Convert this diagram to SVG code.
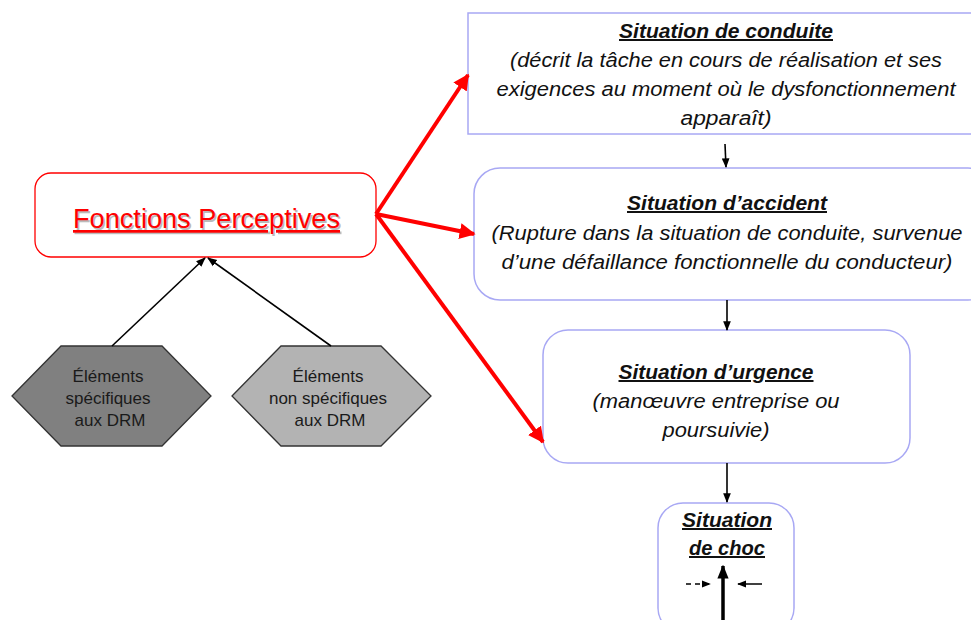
<svg xmlns="http://www.w3.org/2000/svg" width="971" height="620" viewBox="0 0 971 620">
<defs>
<style>
.sit{fill:#fff;stroke:#a8a8f4;stroke-width:1.5}
.t{font-family:"Liberation Sans",Arial,sans-serif;font-style:italic;font-size:20px;fill:#111;text-anchor:middle}
.h{font-weight:bold;text-decoration:underline}
.hx{font-family:"Liberation Sans",Arial,sans-serif;font-size:17px;fill:#1a1a1a;text-anchor:middle}
.red{stroke:#f00;stroke-width:4;fill:none;marker-end:url(#ra)}
.blk{stroke:#000;stroke-width:1.6;fill:none;marker-end:url(#ba)}
</style>
<marker id="ra" viewBox="0 0 10 10" refX="9" refY="5" markerWidth="4" markerHeight="4" orient="auto" markerUnits="strokeWidth"><path d="M0,0 L10,5 L0,10 z" fill="#f00"/></marker>
<marker id="ba" viewBox="0 0 10 10" refX="9" refY="5" markerWidth="6" markerHeight="6" orient="auto" markerUnits="strokeWidth"><path d="M0,1 L10,5 L0,9 z" fill="#000"/></marker>
<marker id="bs" viewBox="0 0 10 10" refX="9" refY="5" markerWidth="4" markerHeight="4" orient="auto" markerUnits="strokeWidth"><path d="M0,1 L10,5 L0,9 z" fill="#000"/></marker>
</defs>
<rect width="971" height="620" fill="#fff"/>

<g id="conduite">
<rect class="sit" x="468" y="13" width="520" height="121"/>
<text class="t h" x="726" y="38" textLength="214" lengthAdjust="spacingAndGlyphs">Situation de conduite</text>
<text class="t" x="726" y="67" textLength="432" lengthAdjust="spacingAndGlyphs">(décrit la tâche en cours de réalisation et ses</text>
<text class="t" x="726" y="96" textLength="459" lengthAdjust="spacingAndGlyphs">exigences au moment où le dysfonctionnement</text>
<text class="t" x="726" y="125" textLength="91" lengthAdjust="spacingAndGlyphs">apparaît)</text>
</g>

<g id="accident">
<rect class="sit" x="474" y="168" width="520" height="132" rx="26"/>
<text class="t h" x="727" y="210" textLength="200" lengthAdjust="spacingAndGlyphs">Situation d’accident</text>
<text class="t" x="727" y="240" textLength="471" lengthAdjust="spacingAndGlyphs">(Rupture dans la situation de conduite, survenue</text>
<text class="t" x="727" y="269" textLength="451" lengthAdjust="spacingAndGlyphs">d’une défaillance fonctionnelle du conducteur)</text>
</g>

<g id="urgence">
<rect class="sit" x="543" y="330" width="367" height="133" rx="25"/>
<text class="t h" x="716" y="379" textLength="195" lengthAdjust="spacingAndGlyphs">Situation d’urgence</text>
<text class="t" x="716" y="408" textLength="247" lengthAdjust="spacingAndGlyphs">(manœuvre entreprise ou</text>
<text class="t" x="716" y="437" textLength="107" lengthAdjust="spacingAndGlyphs">poursuivie)</text>
</g>

<g id="choc">
<rect class="sit" x="658" y="503" width="136" height="130" rx="25"/>
<text class="t h" x="727" y="527" textLength="90" lengthAdjust="spacingAndGlyphs">Situation</text>
<text class="t h" x="727" y="555" textLength="76" lengthAdjust="spacingAndGlyphs">de choc</text>
<line x1="723" y1="620" x2="723" y2="566" stroke="#000" stroke-width="3.5" marker-end="url(#bs)"/>
<line x1="686" y1="584" x2="710" y2="584" stroke="#000" stroke-width="1.5" stroke-dasharray="5,4" marker-end="url(#ba)"/>
<line x1="762" y1="584" x2="738" y2="584" stroke="#000" stroke-width="1.5" marker-end="url(#ba)"/>
</g>

<g id="fonctions">
<rect x="35" y="173" width="341" height="84" rx="16" fill="#fff" stroke="#f00" stroke-width="1.3"/>
<text x="206.5" y="228" font-family="'Liberation Sans',Arial,sans-serif" font-size="27" fill="#bbb" text-anchor="middle" textLength="267" lengthAdjust="spacingAndGlyphs" text-decoration="underline" transform="translate(1.5,1.5)">Fonctions Perceptives</text>
<text x="206.5" y="228" font-family="'Liberation Sans',Arial,sans-serif" font-size="27" fill="#f00" text-anchor="middle" textLength="267" lengthAdjust="spacingAndGlyphs" text-decoration="underline">Fonctions Perceptives</text>
</g>

<g id="specifiques">
<polygon points="12,396 61,346 162,346 211,396 162,446 61,446" fill="#808080" stroke="#333" stroke-width="1.3"/>
<text class="hx" x="108" y="382">Éléments</text>
<text class="hx" x="108" y="404">spécifiques</text>
<text class="hx" x="110" y="426">aux DRM</text>
</g>

<g id="non-specifiques">
<polygon points="232,396 281,346 381,346 431,396 381,446 281,446" fill="#b3b3b3" stroke="#333" stroke-width="1.3"/>
<text class="hx" x="328" y="382">Éléments</text>
<text class="hx" x="328" y="404">non spécifiques</text>
<text class="hx" x="330" y="426">aux DRM</text>
</g>

<g id="connectors">
<line class="red" x1="376" y1="214" x2="468" y2="75"/>
<line class="red" x1="376" y1="214" x2="474" y2="234"/>
<line class="red" x1="376" y1="214" x2="543" y2="442"/>
<line class="blk" x1="112" y1="346" x2="205" y2="258"/>
<line class="blk" x1="331" y1="346" x2="208" y2="258"/>
<line class="blk" x1="725" y1="144" x2="726" y2="167"/>
<line class="blk" x1="727" y1="300" x2="727" y2="330"/>
<line class="blk" x1="727" y1="463" x2="727" y2="502"/>
</g>
</svg>
